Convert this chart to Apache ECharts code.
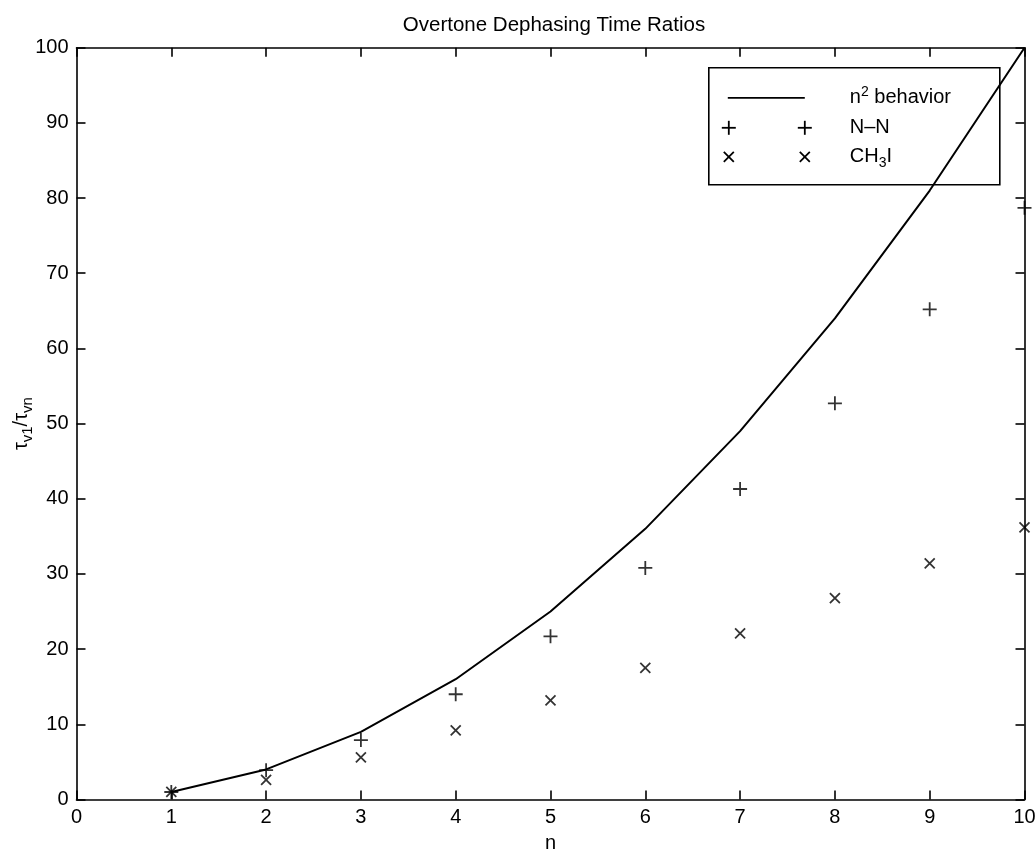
<!DOCTYPE html>
<html>
<head>
<meta charset="utf-8">
<script src="https://cdn.jsdelivr.net/npm/echarts@6/dist/echarts.min.js"></script>
<style>
html,body{margin:0;padding:0;background:#fff;}
#chart{width:1035px;height:851px;}
</style>
</head>
<body>
<div id="chart"></div>
<script>
// ---- data ----
const nValues = [1, 2, 3, 4, 5, 6, 7, 8, 9, 10];
const n2Behavior = [1, 4, 9, 16, 25, 36, 49, 64, 81, 100];
const nnRatios = [1.0, 3.9, 7.9, 14.0, 21.7, 30.8, 41.3, 52.7, 65.2, 78.7];
const ch3iRatios = [1.0, 2.6, 5.6, 9.2, 13.2, 17.5, 22.1, 26.8, 31.4, 36.2];
const xTicks = [0, 1, 2, 3, 4, 5, 6, 7, 8, 9, 10];
const yTicks = [0, 10, 20, 30, 40, 50, 60, 70, 80, 90, 100];

const FONT = 'Liberation Sans, Arial, Helvetica, sans-serif';
const PLUS = 'path://M5,0 L5,10 M0,5 L10,5';
const CROSS = 'path://M0,0 L10,10 M10,0 L0,10';

const pair = (xs, ys) => xs.map((x, i) => [x, ys[i]]);

const chart = echarts.init(document.getElementById('chart'));
const axisCommon = {
  axisLine: { show: true, onZero: false, lineStyle: { color: '#000', width: 1.6 } },
  axisTick: { show: true, inside: true, length: 9, lineStyle: { color: '#000', width: 1.6 } },
  splitLine: { show: false }
};
const option = {
  backgroundColor: '#fff',
  animation: false,
  title: {
    text: 'Overtone Dephasing Time Ratios',
    left: 549, textAlign: 'center', top: 10,
    textStyle: { fontFamily: FONT, fontSize: 20.5, fontWeight: 'normal', color: '#000' }
  },
  grid: { left: 76.5, right: 10.5, top: 47.7, bottom: 51.5, containLabel: false, outerBoundsMode: 'none' },
  xAxis: [
    Object.assign({
      type: 'value', min: xTicks[0], max: xTicks[xTicks.length - 1], interval: 1,
      position: 'bottom',
      name: 'n', nameLocation: 'middle', nameGap: 34, nameMoveOverlap: false,
      nameTextStyle: { fontFamily: FONT, fontSize: 20, color: '#000' },
      axisLabel: { fontFamily: FONT, fontSize: 20, color: '#000', margin: 8 }
    }, axisCommon),
    Object.assign({
      type: 'value', min: xTicks[0], max: xTicks[xTicks.length - 1], interval: 1,
      position: 'top', axisLabel: { show: false }
    }, axisCommon)
  ],
  yAxis: [
    Object.assign({
      type: 'value', min: yTicks[0], max: yTicks[yTicks.length - 1], interval: 10,
      position: 'left',
      name: '{t|τ}{s|v1}{t|/τ}{s|vn}', nameLocation: 'middle', nameGap: 40, nameRotate: 90,
      nameMoveOverlap: false,
      nameTextStyle: {
        fontFamily: FONT, color: '#000',
        rich: {
          t: { fontFamily: FONT, fontSize: 20, color: '#000', lineHeight: 30, verticalAlign: 'middle' },
          s: { fontFamily: FONT, fontSize: 15, color: '#000', lineHeight: 30, padding: [12, 0, 0, 0], verticalAlign: 'middle' }
        }
      },
      axisLabel: { fontFamily: FONT, fontSize: 20, color: '#000', margin: 8 }
    }, axisCommon),
    Object.assign({
      type: 'value', min: yTicks[0], max: yTicks[yTicks.length - 1], interval: 10,
      position: 'right', axisLabel: { show: false }
    }, axisCommon)
  ],
  series: [
    {
      name: 'n2 behavior', type: 'line', xAxisIndex: 0, yAxisIndex: 0,
      data: pair(nValues, n2Behavior), showSymbol: false, symbol: 'none',
      lineStyle: { color: '#000', width: 2 }, clip: false, z: 3
    },
    {
      name: 'N-N', type: 'scatter', data: pair(nValues, nnRatios),
      symbol: PLUS, symbolSize: 14, clip: false,
      itemStyle: { color: 'rgba(0,0,0,0)', borderColor: '#000', borderWidth: 1.8 }, z: 4
    },
    {
      name: 'CH3I', type: 'scatter', data: pair(nValues, ch3iRatios),
      symbol: CROSS, symbolSize: 10, clip: false,
      itemStyle: { color: 'rgba(0,0,0,0)', borderColor: '#000', borderWidth: 1.8 }, z: 4
    }
  ],
  graphic: [
    {
      type: 'group', left: 708, top: 67, z: 100,
      children: [
        { type: 'rect', shape: { x: 0, y: 0, width: 291, height: 117 },
          style: { fill: '#fff', stroke: '#000', lineWidth: 1.6 } },
        { type: 'line', shape: { x1: 19, y1: 30, x2: 96, y2: 30 }, style: { stroke: '#000', lineWidth: 1.8 } },
        { type: 'text', x: 141, y: 30, style: {
            text: '{t|n}{sup|2}{t| behavior}', verticalAlign: 'middle', fill: '#000',
            rich: {
              t: { fontFamily: FONT, fontSize: 20, fill: '#000', lineHeight: 26 },
              sup: { fontFamily: FONT, fontSize: 14, fill: '#000', lineHeight: 26, padding: [0, 0, 12, 0] }
            } } },
        { type: 'line', shape: { x1: 13, y1: 60, x2: 27, y2: 60 }, style: { stroke: '#000', lineWidth: 1.8 } },
        { type: 'line', shape: { x1: 20, y1: 53, x2: 20, y2: 67 }, style: { stroke: '#000', lineWidth: 1.8 } },
        { type: 'line', shape: { x1: 89, y1: 60, x2: 103, y2: 60 }, style: { stroke: '#000', lineWidth: 1.8 } },
        { type: 'line', shape: { x1: 96, y1: 53, x2: 96, y2: 67 }, style: { stroke: '#000', lineWidth: 1.8 } },
        { type: 'text', x: 141, y: 60, style: {
            text: 'N–N', verticalAlign: 'middle', fill: '#000', fontFamily: FONT, fontSize: 20 } },
        { type: 'line', shape: { x1: 15, y1: 84, x2: 25, y2: 94 }, style: { stroke: '#000', lineWidth: 1.8 } },
        { type: 'line', shape: { x1: 25, y1: 84, x2: 15, y2: 94 }, style: { stroke: '#000', lineWidth: 1.8 } },
        { type: 'line', shape: { x1: 91, y1: 84, x2: 101, y2: 94 }, style: { stroke: '#000', lineWidth: 1.8 } },
        { type: 'line', shape: { x1: 101, y1: 84, x2: 91, y2: 94 }, style: { stroke: '#000', lineWidth: 1.8 } },
        { type: 'text', x: 141, y: 89, style: {
            text: '{t|CH}{sub|3}{t|I}', verticalAlign: 'middle', fill: '#000',
            rich: {
              t: { fontFamily: FONT, fontSize: 20, fill: '#000', lineHeight: 26 },
              sub: { fontFamily: FONT, fontSize: 14, fill: '#000', lineHeight: 26, padding: [12, 0, 0, 0] }
            } } }
      ]
    }
  ]
};
chart.setOption(option);
</script>
</body>
</html>
